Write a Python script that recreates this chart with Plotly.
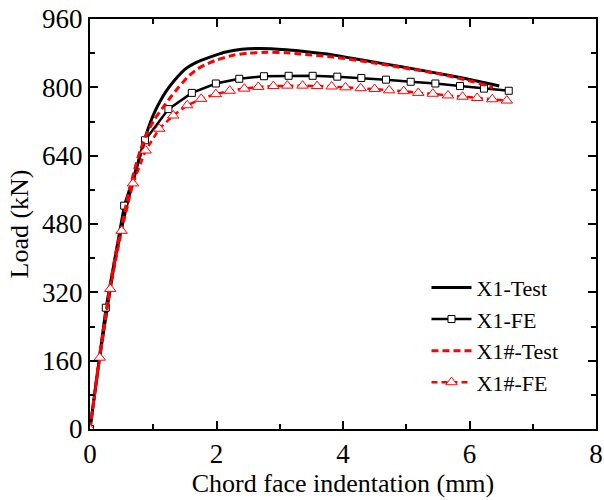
import plotly.graph_objects as go

# X1-Test (black solid)
x1_test_x = [0, 0.15, 0.28, 0.40, 0.50, 0.60, 0.70, 0.80, 0.90, 1.00, 1.10, 1.20, 1.34, 1.50, 1.65, 1.81, 2.00, 2.13,
             2.40, 2.70, 3.10, 3.32, 3.84, 4.37, 4.90, 5.42, 5.95, 6.47]
x1_test_y = [0, 165, 290, 400, 470, 535, 590, 645, 695, 735, 765, 790, 817, 842, 856, 866, 876, 882,
             889, 891, 888, 885, 876, 862, 849, 835, 820, 803]

# X1-FE (black, squares)
x1_fe_x = [0, 0.25, 0.54, 0.87, 1.24, 1.61, 1.99, 2.36, 2.75, 3.14, 3.52, 3.91, 4.29, 4.68, 5.07,
           5.46, 5.85, 6.23, 6.62]
x1_fe_y = [0, 284, 523, 676, 749, 787, 809, 820, 826, 827, 827, 825, 822, 818, 813,
           809, 803, 797, 792]

# X1#-Test (red dashed)
x1s_test_x = [0, 0.15, 0.28, 0.40, 0.50, 0.60, 0.70, 0.80, 0.90, 1.02, 1.15, 1.28, 1.40, 1.55, 1.70,
              1.81, 2.00, 2.26, 2.50, 2.79, 3.10, 3.32, 3.84, 4.37, 4.90, 5.53, 6.06, 6.32, 6.37]
x1s_test_y = [0, 170, 300, 405, 475, 545, 605, 655, 692, 725, 752, 778, 800, 825, 843,
              852, 864, 875, 880, 882, 881, 878, 871, 860, 847, 831, 813, 802, 799]

# X1#-FE (red, triangles)
x1s_fe_x = [0, 0.155, 0.32, 0.50, 0.68, 0.88, 1.095, 1.316, 1.537, 1.758, 1.99, 2.21, 2.44, 2.66, 2.90,
            3.12, 3.36, 3.59, 3.82, 4.04, 4.28, 4.50, 4.73, 4.96, 5.19, 5.42, 5.66, 5.89, 6.12,
            6.36, 6.59]
x1s_fe_y = [0, 167, 328, 464, 575, 652, 703, 734, 758, 773, 784, 792, 797, 801, 803,
            804, 804, 803, 802, 800, 798, 796, 793, 791, 787, 785, 781, 778, 775,
            772, 769]

FONT = "Liberation Serif"

fig = go.Figure()
fig.add_trace(go.Scatter(x=x1_test_x, y=x1_test_y, mode="lines", name="X1-Test",
                         line=dict(color="black", width=3, shape="spline", smoothing=0.6)))
fig.add_trace(go.Scatter(x=x1_fe_x, y=x1_fe_y, mode="lines+markers", name="X1-FE",
                         line=dict(color="black", width=2.5),
                         marker=dict(symbol="square", size=7, color="white",
                                     line=dict(color="black", width=1))))
fig.add_trace(go.Scatter(x=x1s_test_x, y=x1s_test_y, mode="lines", name="X1#-Test",
                         line=dict(color="red", width=3, dash="7px,4px", shape="spline", smoothing=0.6)))
fig.add_trace(go.Scatter(x=x1s_fe_x, y=x1s_fe_y, mode="lines+markers", name="X1#-FE",
                         line=dict(color="red", width=2.5, dash="6px,4px"),
                         marker=dict(symbol="triangle-up", size=10, color="white",
                                     line=dict(color="red", width=1))))

axis_common = dict(
    showline=True, linecolor="black", linewidth=2, mirror="ticks",
    ticks="inside", ticklen=8, tickwidth=1.5, tickcolor="black",
    showgrid=False, zeroline=False, automargin=False,
    tickfont=dict(family=FONT, size=27, color="black"),
)

fig.update_xaxes(range=[0, 8], dtick=2, tick0=0,
                 minor=dict(dtick=1, ticks="inside", ticklen=5, tickcolor="black", tickwidth=1.5),
                 title=dict(text="Chord face indentation (mm)", font=dict(family=FONT, size=26, color="black"),
                            standoff=4),
                 **axis_common)
fig.update_yaxes(range=[0, 960], dtick=160, tick0=0,
                 minor=dict(dtick=80, ticks="inside", ticklen=5, tickcolor="black", tickwidth=1.5),
                 title=dict(text="Load (kN)", font=dict(family=FONT, size=26, color="black"),
                            standoff=6),
                 **axis_common)

fig.update_layout(
    width=604, height=500,
    margin=dict(l=90, r=8, t=19, b=71),
    paper_bgcolor="white", plot_bgcolor="white",
    font=dict(family=FONT, color="black"),
    legend=dict(x=0.665, y=0.396, xanchor="left", yanchor="top",
                bgcolor="rgba(0,0,0,0)", font=dict(family=FONT, size=22, color="black"),
                itemwidth=40, tracegroupgap=0),
    showlegend=True,
)

fig.write_html("out.html")
